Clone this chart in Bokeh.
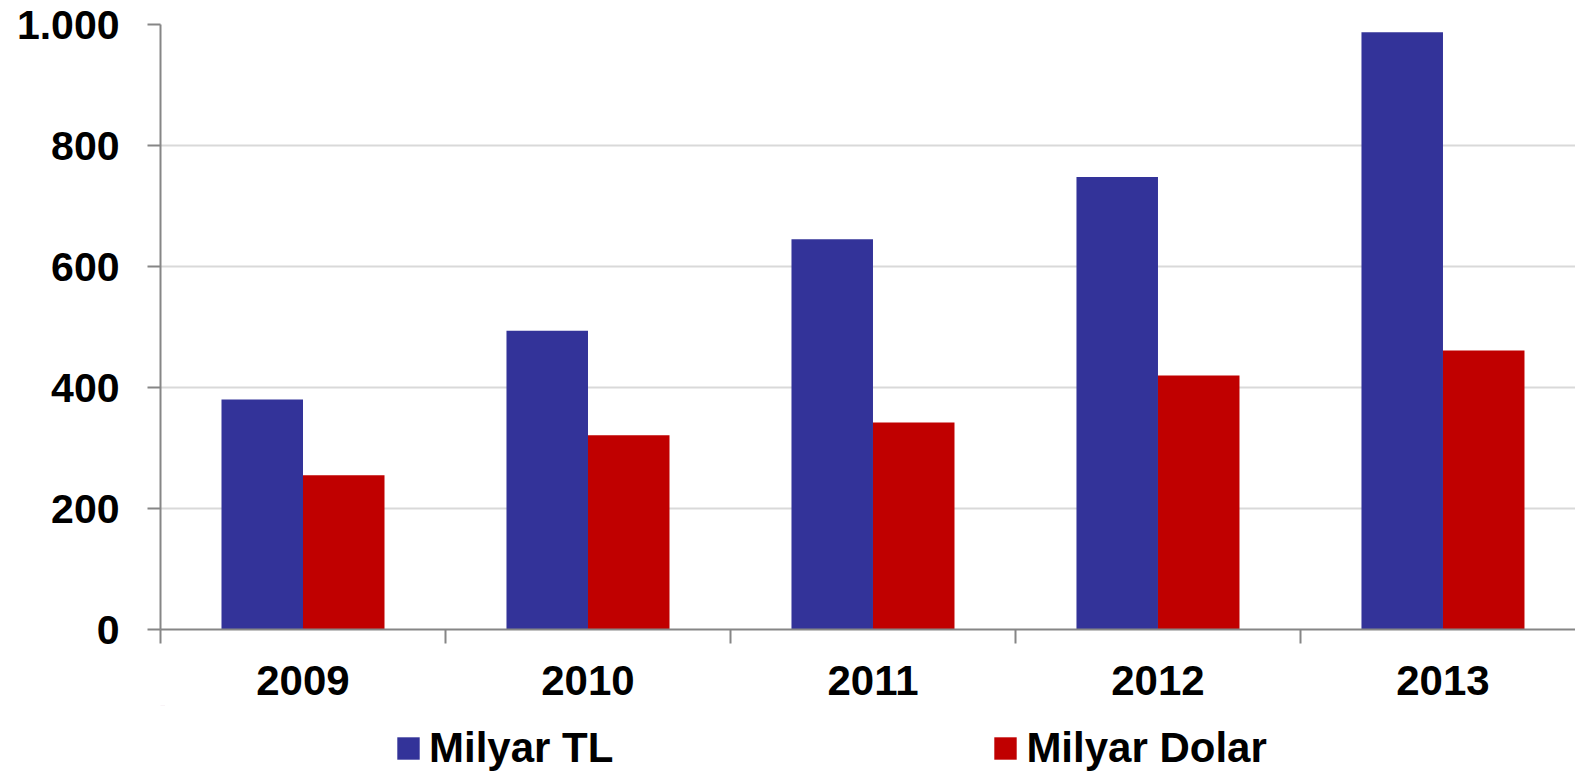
from bokeh.plotting import figure
from bokeh.models import ColumnDataSource, Range1d, FixedTicker, Legend, LegendItem
from bokeh.layouts import column
from bokeh.transform import dodge
from bokeh.embed import file_html
from bokeh.resources import INLINE

years = ["2009", "2010", "2011", "2012", "2013"]
milyar_tl = [380, 494, 645, 748, 987]
milyar_dolar = [255, 321, 342, 420, 461]
y_ticks = [0, 200, 400, 600, 800, 1000]
y_labels = ["0", "200", "400", "600", "800", "1.000"]
series_names = ["Milyar TL", "Milyar Dolar"]
series_colors = ["#333399", "#C00000"]

FONT = "Liberation Sans"
GRAY = "#868686"

xs = [i + 0.5 for i in range(len(years))]
src = ColumnDataSource(dict(x=xs, tl=milyar_tl, usd=milyar_dolar, year=years))

p = figure(width=1575, height=705, output_backend="svg", toolbar_location=None,
           x_range=Range1d(0, 4.965), y_range=Range1d(0, 1000),
           min_border_left=160, min_border_right=0, min_border_top=24,
           min_border_bottom=76)
p.outline_line_color = None
p.background_fill_color = "white"

bw = 0.286
r1 = p.vbar(x=dodge("x", -0.143, range=p.x_range), top="tl", width=bw, source=src,
            fill_color=series_colors[0], line_color=None)
r2 = p.vbar(x=dodge("x", 0.143, range=p.x_range), top="usd", width=bw, source=src,
            fill_color=series_colors[1], line_color=None)

# y axis
p.yaxis.ticker = FixedTicker(ticks=y_ticks)
p.yaxis.major_label_overrides = {t: l for t, l in zip(y_ticks, y_labels)}
p.yaxis.major_tick_out = 13
p.yaxis.major_tick_in = 0
p.yaxis.minor_tick_out = 0
p.yaxis.minor_tick_in = 0
p.yaxis.major_label_standoff = 28
p.yaxis.major_label_text_font = FONT
p.yaxis.major_label_text_font_style = "bold"
p.yaxis.major_label_text_font_size = "41px"
p.yaxis.major_label_text_color = "black"
p.yaxis.axis_line_color = GRAY
p.yaxis.axis_line_width = 2
p.yaxis.major_tick_line_color = GRAY
p.yaxis.major_tick_line_width = 2

# x axis: labels at category centers, ticks at category boundaries
p.xaxis.ticker = FixedTicker(ticks=xs, minor_ticks=list(range(len(years) + 1)))
p.xaxis.major_label_overrides = {x: y for x, y in zip(xs, years)}
p.xaxis.major_tick_out = 0
p.xaxis.major_tick_in = 0
p.xaxis.minor_tick_out = 14
p.xaxis.minor_tick_in = 0
p.xaxis.minor_tick_line_color = GRAY
p.xaxis.minor_tick_line_width = 2
p.xaxis.major_label_standoff = 22
p.xaxis.major_label_text_font = FONT
p.xaxis.major_label_text_font_style = "bold"
p.xaxis.major_label_text_font_size = "42px"
p.xaxis.major_label_text_color = "black"
p.xaxis.axis_line_color = GRAY
p.xaxis.axis_line_width = 2

p.xgrid.grid_line_color = None
p.ygrid.ticker = FixedTicker(ticks=y_ticks[1:])
p.ygrid.grid_line_color = "#d9d9d9"
p.ygrid.grid_line_width = 2

# legend strip below the chart (same bars, scrolled out of view)
p2 = figure(width=1575, height=73, output_backend="svg", toolbar_location=None,
            x_range=Range1d(0, 1575), y_range=Range1d(-3000, -2000),
            x_axis_location=None, y_axis_location=None,
            min_border_left=0, min_border_right=0, min_border_top=0,
            min_border_bottom=0)
p2.grid.visible = False
p2.outline_line_color = None
items = []
for name, col, color in zip(series_names, ["tl", "usd"], series_colors):
    rr = p2.vbar(x="x", top=col, width=0.1, source=src,
                 fill_color=color, line_color=None)
    items.append(LegendItem(label=name, renderers=[rr]))

legend = Legend(items=items, orientation="horizontal", location=(234, 6),
                padding=0, margin=0, spacing=378,
                glyph_width=28, glyph_height=28, label_standoff=7,
                label_text_font=FONT, label_text_font_style="bold",
                label_text_font_size="42px", label_text_color="black",
                border_line_color=None, background_fill_alpha=0)
p2.add_layout(legend)

layout = column(p, p2, spacing=0)
open("out.html", "w").write(file_html(layout, INLINE))
